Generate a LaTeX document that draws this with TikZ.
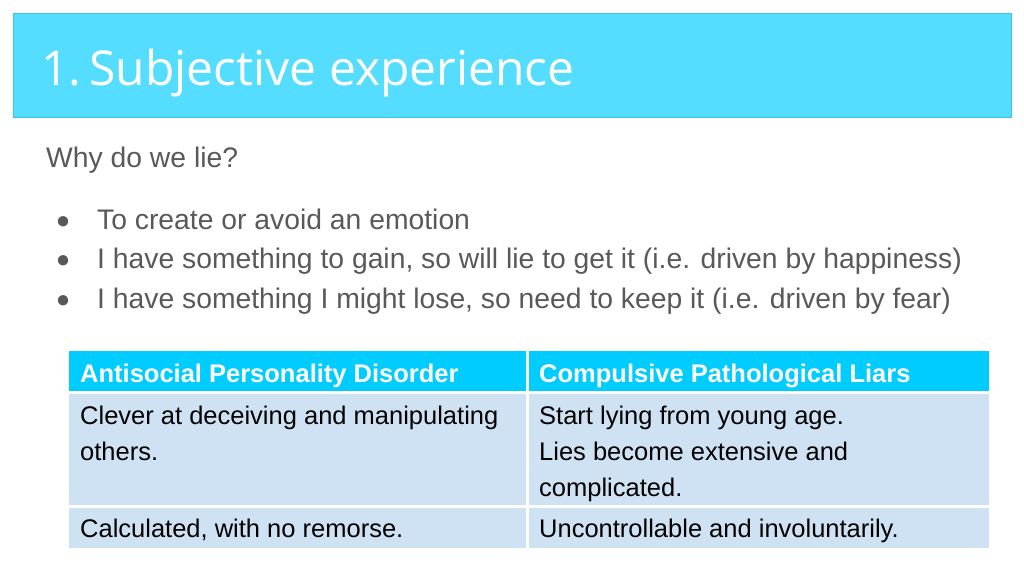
\documentclass[tikz,border=0pt]{standalone}
\usepackage{fontspec}
\setmainfont{Liberation Sans}
\newfontfamily\titlefont{Open Sans}
\definecolor{titlebg}{HTML}{55DDFF}
\definecolor{titleedge}{HTML}{3FC3E6}
\definecolor{hdr}{HTML}{00CCFF}
\definecolor{cellbg}{HTML}{CFE2F3}
\definecolor{greytxt}{HTML}{595959}
\tikzset{x=1pt,y=-1pt,
 body/.style={anchor=base west,inner sep=0pt,text=greytxt,font=\fontsize{28.3}{32}\selectfont},
 cell/.style={anchor=base west,inner sep=0pt,text=black,font=\fontsize{25.5}{30}\selectfont,align=left},
 head/.style={anchor=base west,inner sep=0pt,text=white,font=\bfseries\fontsize{25.5}{30}\selectfont},
 bul/.style={anchor=base,inner sep=0pt,text=greytxt,font=\fontsize{24}{26}\selectfont}}
\begin{document}
\begin{tikzpicture}
\useasboundingbox (0,0) rectangle (1024,576);
\fill[white] (0,0) rectangle (1024,576);
\filldraw[fill=titlebg,draw=titleedge] (13,13) rectangle (1011,117);
\node[anchor=base west,inner sep=0pt,text=white,font=\titlefont\fontsize{48}{54}\selectfont] (title) at (41,85) {1.\,Subjective experience};
\node[body] (why) at (46,167) {Why do we lie?};
\foreach \y/\t [count=\i] in {229/To create or avoid an emotion,
 268/{I have something to gain, so will lie to get it (i.e. driven by happiness)},
 308/{I have something I might lose, so need to keep it (i.e. driven by fear)}}{
 \node[bul] (b\i) at (63,\y-1) {●};
 \node[body] (t\i) at (97,\y) {\t};
}
% table
\fill[hdr] (69,351) rectangle (526,391);
\fill[hdr] (529,351) rectangle (989,391);
\fill[cellbg] (69,394) rectangle (526,505);
\fill[cellbg] (529,394) rectangle (989,505);
\fill[cellbg] (69,508) rectangle (526,548);
\fill[cellbg] (529,508) rectangle (989,548);
\node[head] (h1) at (80,382) {Antisocial Personality Disorder};
\node[head] (h2) at (539,382) {Compulsive Pathological Liars};
\node[cell] (c1) at (80,424) {Clever at deceiving and manipulating};
\node[cell] (c1b) at (80,460) {others.};
\node[cell] (c2) at (539,424) {Start lying from young age.};
\node[cell] (c2b) at (539,460) {Lies become extensive and};
\node[cell] (c2c) at (539,496) {complicated.};
\node[cell] (c3) at (80,537) {Calculated, with no remorse.};
\node[cell] (c4) at (539,537) {Uncontrollable and involuntarily.};
\end{tikzpicture}
\end{document}
